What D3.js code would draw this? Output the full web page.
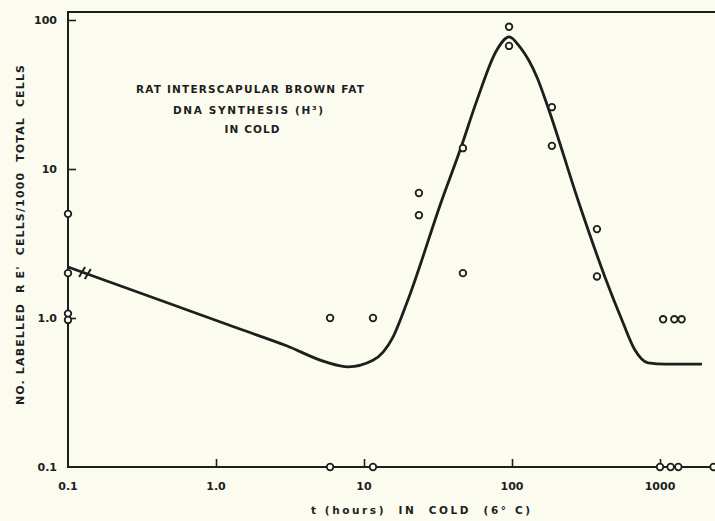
<!DOCTYPE html>
<html>
<head>
<meta charset="utf-8">
<script src="https://cdn.jsdelivr.net/npm/d3@7/dist/d3.min.js"></script>
<style>
  html, body { margin: 0; padding: 0; background: #fbfbef; }
  svg { display: block; }
  text { font-family: "DejaVu Sans", sans-serif; fill: #1e1e1e; }
</style>
</head>
<body>
<svg id="chart" width="715" height="521"></svg>
<script>
// ---- data ----
const xTicks = [0.1, 1, 10, 100, 1000];
const xTickLabels = ["0.1", "1.0", "10", "100", "1000"];
const yTicks = [0.1, 1, 10, 100];
const yTickLabels = ["0.1", "1.0", "10", "100"];

const pointX = [0.1, 0.1, 0.1, 0.1, 5.9, 5.9, 11.5, 11.5, 23.5, 23.5, 46.6, 46.6, 95.5, 95.5, 186, 186, 375, 375, 1050, 1250, 1400, 1000, 1180, 1330, 2300];
const pointY = [5.0, 2.0, 1.07, 0.97, 1.0, 0.1, 1.0, 0.1, 6.9, 4.9, 13.8, 2.0, 90, 67, 26, 14.3, 3.95, 1.9, 0.98, 0.98, 0.98, 0.1, 0.1, 0.1, 0.1];

const curveX = [0.1, 0.5, 1.45, 3.0, 5.5, 7.8, 11.5, 15.7, 19.8, 33.6, 44.6, 58, 79, 95.5, 113, 148, 175, 279, 425, 553, 677, 830, 1100, 1920];
const curveY = [2.2, 1.236, 0.844, 0.651, 0.507, 0.47, 0.52, 0.745, 1.32, 6.2, 13.4, 29, 63, 77, 66, 41, 26, 6.2, 1.88, 0.97, 0.61, 0.50, 0.49, 0.49];

const breakX = [0.1245, 0.136];

const titleLines = ["RAT INTERSCAPULAR BROWN FAT", "DNA SYNTHESIS (H\u00B3)", "IN COLD"];
const xTitle = "t (hours)  IN  COLD  (6\u00B0 C)";
const yTitle = "NO. LABELLED  R E'  CELLS/1000  TOTAL  CELLS";

// ---- scales ----
const ink = "#1e1e1e";
const bg = "#fbfbef";
const svg = d3.select("#chart");

const x = d3.scaleLog().domain([0.1, 2500]).range([68, 68 + 148 * Math.log10(25000)]);
const y = d3.scaleLog().domain([0.1, 100]).range([467, 20]);

const x0 = x(0.1), x1 = 715, yb = y(0.1), yt = y(113);

// frame lines
svg.append("line").attr("x1", x0).attr("x2", x0).attr("y1", yt).attr("y2", yb)
  .attr("stroke", ink).attr("stroke-width", 2);
svg.append("line").attr("x1", x0 - 1).attr("x2", x1).attr("y1", yb).attr("y2", yb)
  .attr("stroke", ink).attr("stroke-width", 2);
svg.append("line").attr("x1", x0 - 1).attr("x2", x1).attr("y1", yt).attr("y2", yt)
  .attr("stroke", ink).attr("stroke-width", 2);

// y axis (ticks inward)
const yAxis = d3.axisRight(y).tickValues(yTicks.slice(1)).tickSize(8).tickFormat("");
const gy = svg.append("g").attr("transform", `translate(${x0},0)`).call(yAxis);
gy.select(".domain").remove();
gy.selectAll("line").attr("stroke", ink).attr("stroke-width", 1.6);

svg.append("g").selectAll("text").data(yTicks).join("text")
  .attr("x", 57).attr("y", d => y(d)).attr("dy", "0.36em")
  .attr("text-anchor", "end").attr("font-size", 11).attr("font-weight", "bold")
  .text((d, i) => yTickLabels[i]);

// x axis (ticks inward)
const xAxis = d3.axisTop(x).tickValues(xTicks.slice(1)).tickSize(8).tickFormat("");
const gx = svg.append("g").attr("transform", `translate(0,${yb})`).call(xAxis);
gx.select(".domain").remove();
gx.selectAll("line").attr("stroke", ink).attr("stroke-width", 1.6);

svg.append("g").selectAll("text").data(xTicks).join("text")
  .attr("x", d => x(d)).attr("y", 490)
  .attr("text-anchor", "middle").attr("font-size", 11).attr("font-weight", "bold")
  .text((d, i) => xTickLabels[i]);

// axis titles
svg.append("text").attr("x", 311).attr("y", 514).attr("text-anchor", "start")
  .attr("font-size", 10.5).attr("font-weight", "bold")
  .attr("textLength", 219).attr("lengthAdjust", "spacing")
  .style("white-space", "pre")
  .text(xTitle);

svg.append("text").attr("transform", "translate(24,405) rotate(-90)")
  .attr("text-anchor", "start").attr("font-size", 11).attr("font-weight", "bold")
  .attr("textLength", 340).attr("lengthAdjust", "spacing")
  .style("white-space", "pre")
  .text(yTitle);

// annotation title
const titleWidths = [228, 150, 55];
const titleCenters = [250, 248, 252];
svg.append("g").selectAll("text").data(titleLines).join("text")
  .attr("x", (d, i) => titleCenters[i] - titleWidths[i] / 2)
  .attr("y", (d, i) => [93, 114, 133][i])
  .attr("text-anchor", "start").attr("font-size", 10.5).attr("font-weight", "bold")
  .attr("textLength", (d, i) => titleWidths[i]).attr("lengthAdjust", "spacing")
  .text(d => d);

// fitted curve
const curveData = curveX.map((v, i) => [v, curveY[i]]);
const line = d3.line().x(d => x(d[0])).y(d => y(d[1])).curve(d3.curveMonotoneX);
svg.append("path").datum(curveData).attr("d", line)
  .attr("fill", "none").attr("stroke", ink).attr("stroke-width", 2.8)
  .attr("stroke-linejoin", "round").attr("stroke-linecap", "butt");

// axis break marks on the curve
const p0 = [x(curveX[0]), y(curveY[0])], p1 = [x(curveX[2]), y(curveY[2])];
svg.append("g").selectAll("line").data(breakX).join("line")
  .each(function (d) {
    const px = x(d);
    const py = p0[1] + (p1[1] - p0[1]) * (px - p0[0]) / (p1[0] - p0[0]);
    d3.select(this).attr("x1", px - 3).attr("y1", py + 5).attr("x2", px + 3).attr("y2", py - 5);
  })
  .attr("stroke", ink).attr("stroke-width", 2);

// data points (open circles)
const pts = pointX.map((v, i) => [v, pointY[i]]);
svg.append("g").selectAll("circle").data(pts).join("circle")
  .attr("cx", d => x(d[0])).attr("cy", d => y(d[1])).attr("r", 3.3)
  .attr("fill", bg).attr("stroke", ink).attr("stroke-width", 1.8);
</script>
</body>
</html>
